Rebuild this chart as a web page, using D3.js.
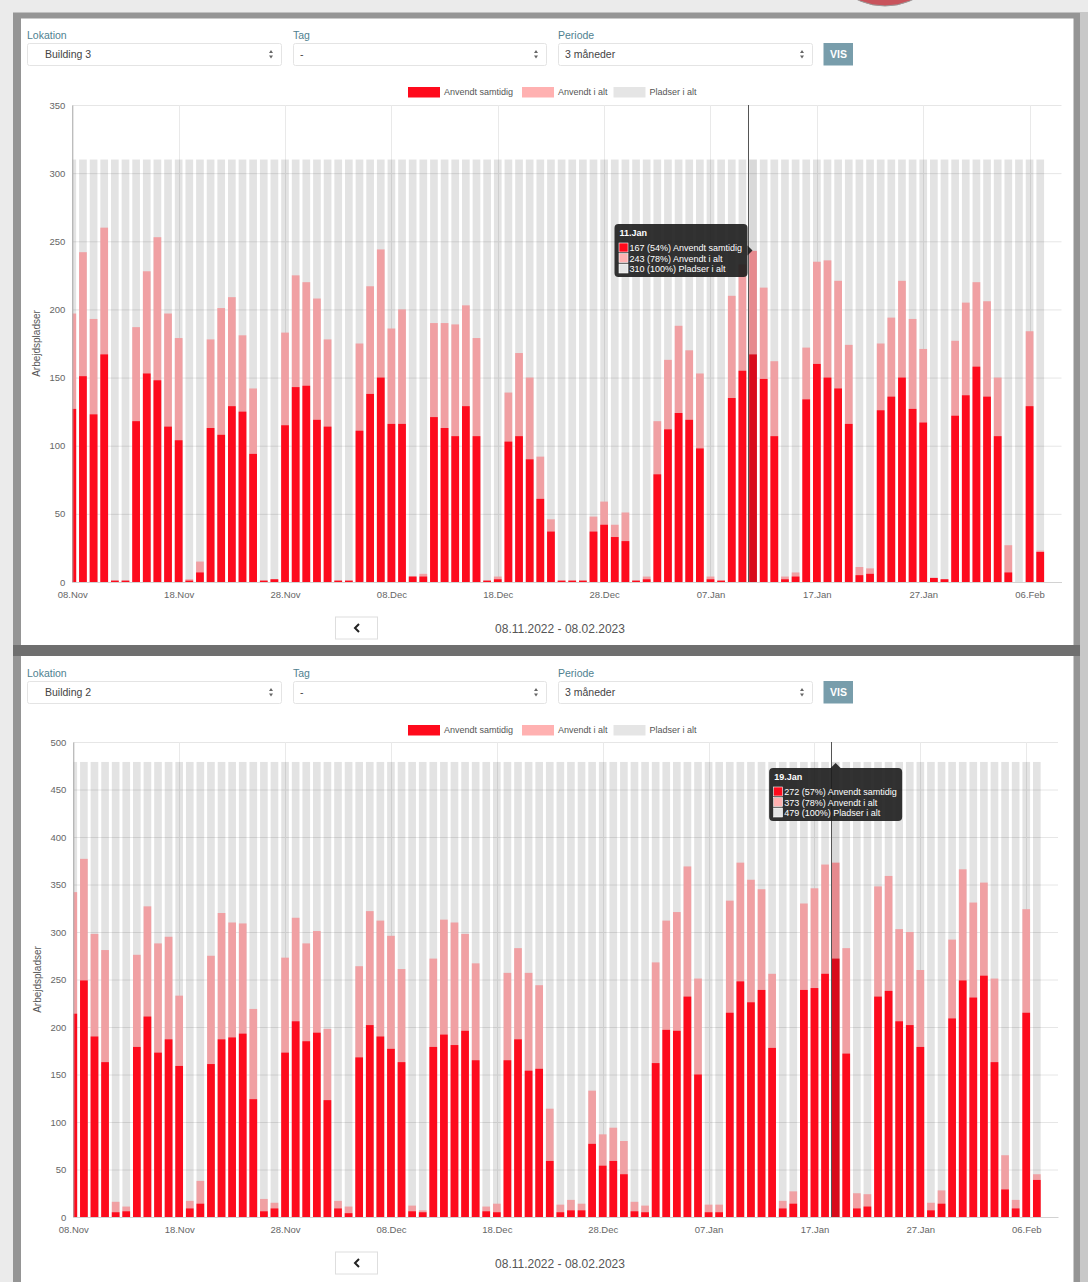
<!DOCTYPE html>
<html>
<head>
<meta charset="utf-8">
<script src="https://cdn.jsdelivr.net/npm/d3@7"></script>
<style>
  body { margin: 0; background: #e9e9e9; }
  svg { display: block; font-family: "Liberation Sans", Arial, sans-serif; }
</style>
</head>
<body>
<svg id="chart" width="1088" height="1282"></svg>
<script>
// period shown: 08.11.2022 - 08.02.2023, one bar per day
const startDate = new Date(2022, 10, 8)
const lastBarEnd = new Date(2023, 1, 8)
const domainEnd = new Date(2023, 1, 9)

const seriesNames = ["Anvendt samtidig", "Anvendt i alt", "Pladser i alt"]

// Building 3
const b3Concurrent = [127,151,123,167,1,1,118,153,148,114,104,1,7,113,108,129,125,94,1,2,
  115,143,144,119,114,1,1,111,138,150,116,116,4,4,121,113,107,129,107,1,
  2,103,107,90,61,37,1,1,1,37,42,33,30,1,2,79,112,124,119,98,
  2,1,135,155,167,149,107,2,4,134,160,150,142,116,5,6,126,136,150,127,
  117,3,2,122,137,158,136,107,7,0,129,22]
const b3Total = [197,242,193,260,1,1,187,228,253,197,179,2,15,178,201,209,181,142,1,2,
  183,225,220,208,178,1,1,175,217,244,186,200,4,6,190,190,189,203,179,1,
  4,139,168,150,92,46,1,1,1,48,59,42,51,1,4,118,163,188,170,153,
  4,1,210,233,243,216,162,4,7,172,235,236,221,174,11,10,175,194,221,193,
  171,3,2,177,205,220,206,150,27,0,184,23]
const b3Capacity = 310

// Building 2
const b2Concurrent = [214,249,190,163,5,6,179,211,173,187,159,9,14,161,187,189,193,124,6,9,
  173,206,185,194,123,9,4,168,202,190,177,163,6,5,179,192,181,196,165,6,
  5,165,187,154,156,59,5,7,7,77,54,59,45,6,5,162,197,196,232,150,
  5,5,215,248,226,239,178,9,14,239,241,256,272,172,9,11,232,238,206,202,
  179,7,14,209,249,231,254,163,29,9,215,39]
const b2Total = [342,377,298,281,16,11,276,327,288,295,233,17,38,275,320,310,309,219,19,15,
  273,315,288,301,198,17,11,264,322,312,296,261,12,7,272,313,310,298,267,11,
  14,257,283,257,244,114,13,18,14,133,87,94,80,16,12,268,312,321,369,251,
  13,13,333,373,355,345,256,17,27,330,346,371,373,283,25,24,348,359,303,300,
  260,15,28,292,366,331,352,251,65,18,324,45]
const b2Capacity = 479

const days = d3.timeDay.range(startDate, lastBarEnd)
const tickDates = d3.timeDay.range(startDate, domainEnd, 10)
const fmtDay = d3.timeFormat("%d.%b")

const colors = {
  red: "#fd0b1d", pink: "#f0a0a3", grey: "rgba(0,0,0,0.11)",
  redHover: "#d80b1b", pinkHover: "#e68a8e", greyHover: "rgba(0,0,0,0.15)",
  legRed: "#ff0a1c", legPink: "#ffb1b1", legGrey: "#e5e5e5"
}

const svg = d3.select("#chart")

// window frame / shadows
svg.append("rect").attr("x", 0).attr("y", 0).attr("width", 1088).attr("height", 1282).attr("fill", "#ebebeb")
svg.append("rect").attr("x", 13).attr("y", 12.5).attr("width", 1067).attr("height", 1270).attr("fill", "#959595")
svg.append("rect").attr("x", 1080).attr("y", 12).attr("width", 8).attr("height", 1270).attr("fill", "#c8c8c8")
svg.append("rect").attr("x", 13).attr("y", 645).attr("width", 1067).attr("height", 11).attr("fill", "#6f6f6f")
svg.append("ellipse").attr("cx", 885).attr("cy", -58).attr("rx", 64).attr("ry", 64)
  .attr("fill", "#c8535c").attr("stroke", "#9a9a9a")

function selectBox(g, x, w, y, label, value) {
  g.append("text").attr("x", x).attr("y", y - 4.5).text(label)
    .style("font-size", "10.5px").style("fill", "#4f8190")
  g.append("rect").attr("x", x + 0.5).attr("y", y + 0.5).attr("width", w).attr("height", 22)
    .attr("rx", 2).attr("fill", "#fff").attr("stroke", "#e4e4e4")
  g.append("text").attr("x", x + (value === "-" ? 7 : (label === "Periode" ? 7 : 18))).attr("y", y + 15)
    .text(value).style("font-size", "10.5px").style("fill", "#444")
  const ax = x + w - 10
  g.append("path").attr("d", `M${ax - 2},${y + 10} L${ax + 2},${y + 10} L${ax},${y + 7} Z M${ax - 2},${y + 12.5} L${ax + 2},${y + 12.5} L${ax},${y + 15.5} Z`)
    .attr("fill", "#666")
}

function drawPanel(opt) {
  const dy = opt.dy
  const p = opt.plot
  const g = svg.append("g")

  // panel background
  g.append("rect").attr("x", 21).attr("y", opt.panelTop).attr("width", 1052.5).attr("height", opt.panelBottom - opt.panelTop)
    .attr("fill", "#fff")

  // form row
  selectBox(g, 27, 254, 43 + dy, "Lokation", opt.location)
  selectBox(g, 293, 253, 43 + dy, "Tag", "-")
  selectBox(g, 558, 254, 43 + dy, "Periode", "3 måneder")
  g.append("rect").attr("x", 823.5).attr("y", 43 + dy).attr("width", 29.5).attr("height", 22.5).attr("fill", "#789dab")
  g.append("text").attr("x", 838.5).attr("y", 58 + dy).attr("text-anchor", "middle").text("VIS")
    .style("font-size", "10.5px").style("fill", "#fff").style("font-weight", "bold")

  // legend
  const legColors = [colors.legRed, colors.legPink, colors.legGrey]
  const legX = [408, 522, 613.5]
  seriesNames.forEach((name, i) => {
    g.append("rect").attr("x", legX[i]).attr("y", 87 + dy).attr("width", 32).attr("height", 10.5).attr("fill", legColors[i])
    g.append("text").attr("x", legX[i] + 36).attr("y", 95.3 + dy).text(name)
      .style("font-size", "9px").style("fill", "#555")
  })

  const x = d3.scaleTime().domain([startDate, domainEnd]).range([p.left, p.right])
  const y = d3.scaleLinear().domain([0, opt.yMax]).range([p.bottom, p.top])
  const step = x(d3.timeDay.offset(startDate, 1)) - x(startDate)
  const bw = step * 0.725

  const clipId = "clip" + opt.id
  svg.append("clipPath").attr("id", clipId).append("rect")
    .attr("x", p.left).attr("y", p.top).attr("width", p.right - p.left).attr("height", p.bottom - p.top)

  // grid
  g.append("g").selectAll("line").data(y.ticks(opt.yMax / 50)).enter().append("line")
    .attr("x1", p.left).attr("x2", p.right).attr("y1", d => y(d) + 0.5).attr("y2", d => y(d) + 0.5)
    .style("stroke", "#e6e6e6")
  g.append("g").selectAll("line").data(tickDates).enter().append("line")
    .attr("x1", d => Math.round(x(d)) + 0.5).attr("x2", d => Math.round(x(d)) + 0.5)
    .attr("y1", p.top).attr("y2", p.bottom)
    .style("stroke", "#e9e9e9")

  const rows = days.map((d, i) => ({
    date: d, concurrent: opt.concurrent[i], total: opt.total[i], capacity: opt.capacity, hover: i === opt.hover
  }))

  const bars = g.append("g").attr("clip-path", `url(#${clipId})`)
  bars.selectAll(".grey").data(rows).enter().append("rect")
    .attr("x", d => x(d.date) - bw / 2).attr("width", bw)
    .attr("y", d => y(d.capacity)).attr("height", d => y(0) - y(d.capacity))
    .attr("fill", d => d.hover ? colors.greyHover : colors.grey)
  bars.selectAll(".pink").data(rows).enter().append("rect")
    .attr("x", d => x(d.date) - bw / 2).attr("width", bw)
    .attr("y", d => y(d.total)).attr("height", d => y(0) - y(d.total))
    .attr("fill", d => d.hover ? colors.pinkHover : colors.pink)
  bars.selectAll(".red").data(rows).enter().append("rect")
    .attr("x", d => x(d.date) - bw / 2).attr("width", bw)
    .attr("y", d => y(d.concurrent)).attr("height", d => y(0) - y(d.concurrent))
    .attr("fill", d => d.hover ? colors.redHover : colors.red)

  // axes
  const yAxis = g.append("g").attr("transform", `translate(${p.left},0)`)
    .call(d3.axisLeft(y).ticks(opt.yMax / 50).tickSize(0).tickPadding(7))
  yAxis.select(".domain").style("stroke", "#aaa")
  yAxis.selectAll("text").style("font-size", "9.5px").style("fill", "#666").style("font-family", "Liberation Sans, Arial")

  const xAxis = g.append("g").attr("transform", `translate(0,${p.bottom})`)
    .call(d3.axisBottom(x).tickValues(tickDates).tickFormat(fmtDay).tickSize(0).tickPadding(9))
  xAxis.select(".domain").style("stroke", "#d2d2d2")
  xAxis.selectAll("text").style("font-size", "9.5px").style("fill", "#666").style("font-family", "Liberation Sans, Arial")

  g.append("text").attr("transform", `translate(${opt.titleX},${(p.top + p.bottom) / 2}) rotate(-90)`)
    .attr("text-anchor", "middle").text("Arbejdspladser")
    .style("font-size", "10px").style("fill", "#555")

  // hover line + tooltip
  const h = rows[opt.hover]
  const lineX = Math.round(x(h.date) - bw / 2) - 0.5
  g.append("line").attr("x1", lineX).attr("x2", lineX).attr("y1", p.top).attr("y2", p.bottom)
    .style("stroke", "#555").style("stroke-width", 1)

  const tw = 133, th = 53
  let tx, ty
  const tip = g.append("g")
  if (opt.tipSide === "left") {
    tx = lineX - 1 - tw
    ty = opt.tipY - th / 2
    tip.append("path").attr("d", `M${tx + tw},${opt.tipY - 5} L${tx + tw + 5},${opt.tipY} L${tx + tw},${opt.tipY + 5} Z`)
      .attr("fill", "rgba(28,28,28,0.9)")
  } else {
    const cx = x(h.date)
    tx = cx - tw / 2
    ty = opt.tipY + 5
    tip.append("path").attr("d", `M${cx - 5},${ty} L${cx},${ty - 5} L${cx + 5},${ty} Z`)
      .attr("fill", "rgba(28,28,28,0.9)")
  }
  tip.append("rect").attr("x", tx).attr("y", ty).attr("width", tw).attr("height", th).attr("rx", 4)
    .attr("fill", "rgba(28,28,28,0.9)")
  tip.append("text").attr("x", tx + 5).attr("y", ty + 12).text(fmtDay(h.date))
    .style("font-size", "9px").style("font-weight", "bold").style("fill", "#fff")
  const pct = v => Math.round(v / h.capacity * 100)
  const tipRows = [
    [h.concurrent, colors.legRed, seriesNames[0]],
    [h.total, colors.legPink, seriesNames[1]],
    [h.capacity, colors.legGrey, seriesNames[2]]
  ]
  tipRows.forEach((r, i) => {
    const ry = ty + 19 + i * 10.5
    tip.append("rect").attr("x", tx + 4.5).attr("y", ry).attr("width", 9).attr("height", 9)
      .attr("fill", r[1]).attr("stroke", "#fff").attr("stroke-width", 0.6)
    tip.append("text").attr("x", tx + 15).attr("y", ry + 8).text(`${r[0]} (${pct(r[0])}%) ${r[2]}`)
      .style("font-size", "9px").style("fill", "#fff")
  })

  // period navigation
  const ny = p.bottom + 46
  g.append("rect").attr("x", 335.5).attr("y", ny - 11).attr("width", 42).attr("height", 22)
    .attr("fill", "#fff").attr("stroke", "#dedede")
  g.append("path").attr("d", `M${359},${ny - 4} L${355},${ny} L${359},${ny + 4}`)
    .attr("fill", "none").attr("stroke", "#222").attr("stroke-width", 2)
  g.append("text").attr("x", 560).attr("y", ny + 4.5).attr("text-anchor", "middle")
    .text("08.11.2022 - 08.02.2023")
    .style("font-size", "12px").style("fill", "#555")
}

drawPanel({
  id: 1, dy: 0, panelTop: 18.5, panelBottom: 645, location: "Building 3",
  concurrent: b3Concurrent, total: b3Total, capacity: b3Capacity, yMax: 350, hover: 64,
  plot: { left: 72.3, right: 1061.5, top: 105, bottom: 582 }, titleX: 40,
  tipSide: "left", tipY: 250.5
})
drawPanel({
  id: 2, dy: 638, panelTop: 656, panelBottom: 1282, location: "Building 2",
  concurrent: b2Concurrent, total: b2Total, capacity: b2Capacity, yMax: 500, hover: 72,
  plot: { left: 73.3, right: 1058, top: 742, bottom: 1217 }, titleX: 41,
  tipSide: "below", tipY: 763
})
</script>
</body>
</html>
